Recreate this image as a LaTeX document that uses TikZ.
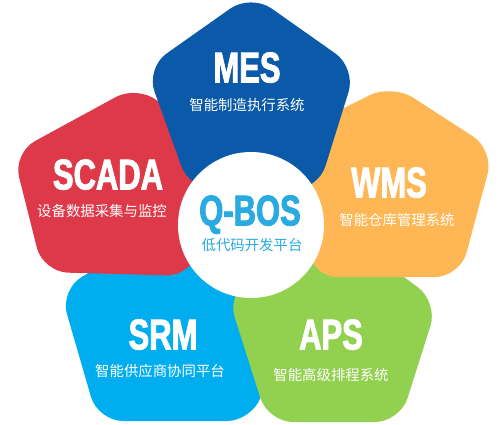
\documentclass[tikz,border=0pt]{standalone}
\usepackage{fontspec}
\newfontfamily\ttl{Liberation Sans}[FakeStretch=0.72, BoldFeatures={FakeBold=2}]
\newfontfamily\cjk{Noto Sans CJK SC}
\definecolor{cBlue}{HTML}{0B59A9}
\definecolor{cRed}{HTML}{DD3948}
\definecolor{cOrange}{HTML}{FFB755}
\definecolor{cCyan}{HTML}{00AEEF}
\definecolor{cGreen}{HTML}{92D050}
\definecolor{cQ}{HTML}{29ABE2}
\begin{document}
\begin{tikzpicture}[x=1pt,y=-1pt,
  petal/.style={rounded corners=25pt},
  ttext/.style={font=\ttl\bfseries\fontsize{43}{43}\selectfont, text=white, inner sep=0pt, text height=30.8pt, text depth=0pt},
  stext/.style={font=\cjk\fontsize{14.4}{15}\selectfont, text=white, inner sep=0pt, text height=11.5pt, text depth=1.5pt}]
\useasboundingbox (0,0) rectangle (500,424);
% petals, back to front
\fill[cCyan,petal] (175,421) -- (252,421) -- (300,290) -- (185,215) -- (60,290) -- (98,421) -- cycle;
\fill[cGreen,petal] (334,422) -- (400,422) -- (438,302) -- (333,225) -- (227,293) -- (268,422) -- cycle;
\fill[cRed,petal] (117,274) -- (192,276) -- (218,150) -- (138,85) -- (13,153) -- (43,272) -- cycle;
\fill[cOrange,petal] (386,277) -- (460,277) -- (494,150) -- (392,84) -- (300,130) -- (312,277) -- cycle;
\fill[cBlue,petal] (254,190) -- (318,190) -- (356,68) -- (251,-6) -- (146,68) -- (190,190) -- cycle;
\fill[white] (251,225) circle[radius=73pt];
% texts
\node[ttext] (mesT) at (247,67) {MES};
\node[stext] (mesS) at (247,105) {智能制造执行系统};
\node[ttext] (scadaT) at (108,174) {SCADA};
\node[stext] (scadaS) at (102,211) {设备数据采集与监控};
\node[ttext] (wmsT) at (389,182) {WMS};
\node[stext] (wmsS) at (397,220) {智能仓库管理系统};
\node[ttext] (srmT) at (163,334) {SRM};
\node[stext] (srmS) at (160,371) {智能供应商协同平台};
\node[ttext] (apsT) at (331,334) {APS};
\node[stext] (apsS) at (331,375) {智能高级排程系统};
\node[ttext,text=cQ] (qT) at (250,210) {Q-BOS};
\node[stext,text=cQ] (qS) at (252,245) {低代码开发平台};
\end{tikzpicture}
\end{document}
